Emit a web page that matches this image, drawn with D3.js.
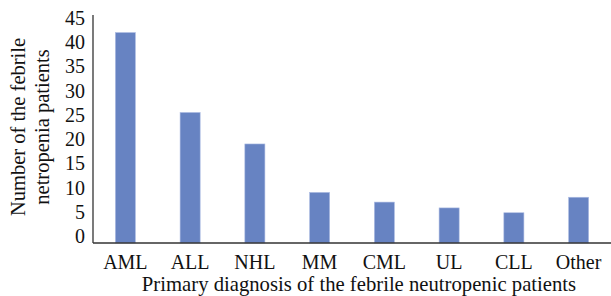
<!DOCTYPE html>
<html>
<head>
<meta charset="utf-8">
<script src="https://cdn.jsdelivr.net/npm/d3@7"></script>
<style>
  html, body { margin:0; padding:0; background:#fff; }
</style>
</head>
<body>
<svg id="chart" width="611" height="296"></svg>
<script>
// diagnosis categories and patient counts
const categories = ['AML', 'ALL', 'NHL', 'MM', 'CML', 'UL', 'CLL', 'Other'];
const patients = [42, 25.5, 19, 9, 7, 5.8, 4.8, 8];
const yTicks = [0, 5, 10, 15, 20, 25, 30, 35, 40, 45];

const serif = "'Liberation Serif', 'Times New Roman', 'DejaVu Serif', serif";
const svg = d3.select('#chart').attr('font-family', serif).attr('fill', '#111');
const left = 93, right = 611, baseline = 243;

const x = d3.scaleBand().domain(categories).range([left, right]).paddingInner(0.69).paddingOuter(0.345);
const y = d3.scaleLinear().domain([0, 45]).range([236, 18]);

// bars (drop to the axis line, which sits a little below the 0 label)
svg.append('g').selectAll('rect').data(categories).join('rect')
  .attr('x', d => x(d))
  .attr('width', x.bandwidth())
  .attr('y', (d,i) => y(patients[i]))
  .attr('height', (d,i) => baseline - y(patients[i]))
  .attr('fill', '#6783c2')
  .attr('stroke', '#aebde3').attr('stroke-width', 0.6);

// axis lines
svg.append('line').attr('x1', left).attr('x2', left).attr('y1', 15).attr('y2', baseline)
  .attr('stroke', '#333').attr('stroke-width', 1.3);
svg.append('line').attr('x1', left).attr('x2', right).attr('y1', baseline).attr('y2', baseline)
  .attr('stroke', '#333').attr('stroke-width', 1.3);

// y tick labels
svg.append('g').selectAll('text').data(yTicks).join('text')
  .attr('x', 85).attr('y', d => y(d)).attr('dy', '0.35em')
  .attr('text-anchor', 'end').attr('font-size', 20).text(d => d);

// x tick labels
svg.append('g').selectAll('text').data(categories).join('text')
  .attr('x', d => x(d) + x.bandwidth() / 2).attr('y', 269)
  .attr('text-anchor', 'middle').attr('font-size', 20).text(d => d);

// axis titles
svg.append('text').attr('x', 359).attr('y', 291).attr('text-anchor', 'middle')
  .attr('font-size', 20.7).text('Primary diagnosis of the febrile neutropenic patients');

const yt = svg.append('text').attr('transform', 'translate(0,127) rotate(-90)')
  .attr('text-anchor', 'middle').attr('font-size', 20.5);
yt.append('tspan').attr('x', 0).attr('y', 25).text('Number of the febrile');
yt.append('tspan').attr('x', 0).attr('y', 49).text('netropenia patients');
</script>
</body>
</html>
